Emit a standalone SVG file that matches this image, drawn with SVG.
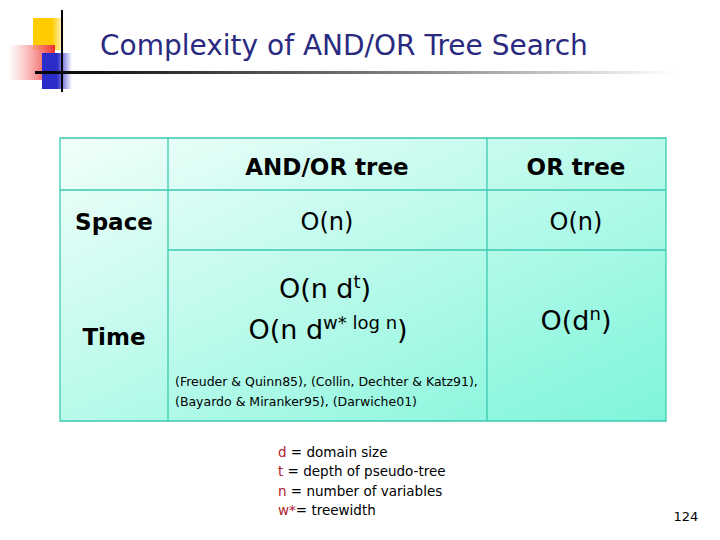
<svg xmlns="http://www.w3.org/2000/svg" width="720" height="540" viewBox="0 0 720 540">
<defs>
<linearGradient id="tg" x1="0" y1="0" x2="1" y2="1">
<stop offset="0" stop-color="#f2fffb"/><stop offset="1" stop-color="#7ef5da"/>
</linearGradient>
<linearGradient id="ul" x1="0" y1="0" x2="1" y2="0">
<stop offset="0" stop-color="#000"/><stop offset="0.6" stop-color="#888"/><stop offset="1" stop-color="#fff"/>
</linearGradient>
<linearGradient id="rd" x1="0" y1="0" x2="1" y2="0">
<stop offset="0" stop-color="#fff" stop-opacity="0.6"/><stop offset="1" stop-color="#f03030"/>
</linearGradient>
<linearGradient id="yl" x1="0" y1="0" x2="1" y2="0">
<stop offset="0.6" stop-color="#ffcc00"/><stop offset="1" stop-color="#fff"/>
</linearGradient>
<linearGradient id="bl" x1="0" y1="0" x2="1" y2="0">
<stop offset="0.5" stop-color="#2c2cc8"/><stop offset="1" stop-color="#fff"/>
</linearGradient>
</defs>
<style>
.h{font-family:"DejaVu Sans",sans-serif;font-weight:bold;font-size:23px;fill:#000;text-anchor:middle}
.c{font-family:"DejaVu Sans",sans-serif;font-size:24px;fill:#000;text-anchor:middle}
.b{font-family:"DejaVu Sans",sans-serif;font-size:27px;fill:#000;text-anchor:middle}
.s{font-family:"DejaVu Sans",sans-serif;font-size:12.5px;fill:#000}
.l{font-family:"DejaVu Sans",sans-serif;font-size:13.5px;fill:#000}
.r{fill:#b02030}
.g{stroke:#3cc9b0;stroke-width:1.3;fill:none}
</style>
<g id="logo">
<rect x="33" y="18" width="32" height="32" fill="url(#yl)"/>
<rect x="8" y="45" width="47" height="35" fill="url(#rd)"/>
<rect x="42" y="53" width="30" height="36" fill="url(#bl)"/>
<line x1="62" y1="10" x2="62" y2="92" stroke="#000" stroke-width="2"/>
<rect x="35" y="71" width="640" height="3" fill="url(#ul)"/>
</g>
<text x="100" y="55" font-family="Tahoma,'DejaVu Sans',sans-serif" font-size="28" fill="#2a2a80">Complexity of AND/OR Tree Search</text>
<g id="table">
<rect x="60" y="138" width="606" height="283" fill="url(#tg)"/>
<path class="g" d="M60 138H666V421H60Z M60 190H666 M168 250H666 M168 138V421 M487 138V421"/>
<text class="h" x="327" y="175">AND/OR tree</text>
<text class="h" x="576" y="175">OR tree</text>
<text class="h" x="114" y="230">Space</text>
<text class="c" x="327" y="230">O(n)</text>
<text class="c" x="576" y="230">O(n)</text>
<text class="h" x="114" y="345">Time</text>
<text class="b" x="325" y="298">O(n d<tspan dy="-10" font-size="18">t</tspan><tspan dy="10">)</tspan></text>
<text class="b" x="328" y="339">O(n d<tspan dy="-10" font-size="18">w* log n</tspan><tspan dy="10">)</tspan></text>
<text class="b" x="576" y="330">O(d<tspan dy="-10" font-size="18">n</tspan><tspan dy="10">)</tspan></text>
<text class="s" x="175" y="386">(Freuder &amp; Quinn85), (Collin, Dechter &amp; Katz91),</text>
<text class="s" x="175" y="406">(Bayardo &amp; Miranker95), (Darwiche01)</text>
</g>
<g id="legend">
<text class="l" x="278" y="457"><tspan class="r">d</tspan>  = domain size</text>
<text class="l" x="278" y="476"><tspan class="r">t</tspan> = depth of pseudo-tree</text>
<text class="l" x="278" y="496"><tspan class="r">n</tspan>  = number of variables</text>
<text class="l" x="278" y="515"><tspan class="r">w*</tspan>= treewidth</text>
</g>
<text x="686" y="521" font-family="'DejaVu Sans',sans-serif" font-size="13" text-anchor="middle">124</text>
</svg>
